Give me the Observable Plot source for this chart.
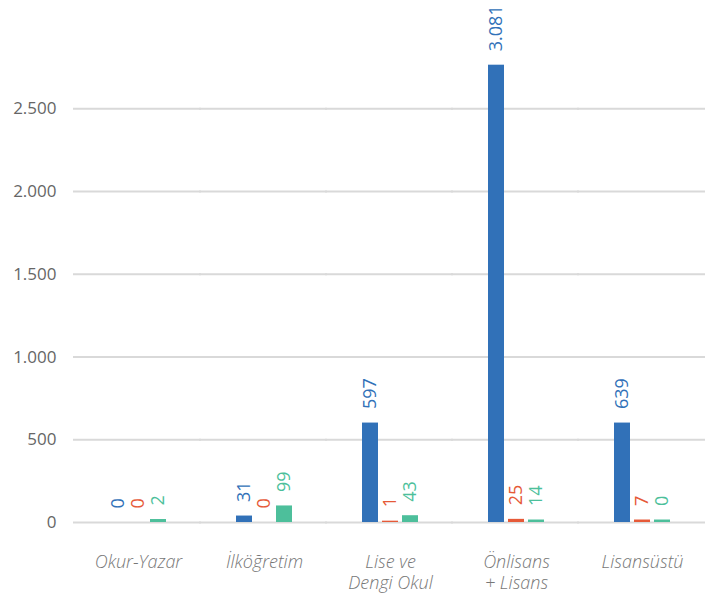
<!DOCTYPE html>
<html>
<head>
<meta charset="utf-8">
<script src="https://cdn.jsdelivr.net/npm/d3@7"></script>
<script src="https://cdn.jsdelivr.net/npm/@observablehq/plot@0.6"></script>
<style>
  html, body { margin: 0; padding: 0; background: #fff; }
</style>
</head>
<body>
<div id="chart"></div>
<script>
// Categories (x groups)
const categories = ["Okur-Yazar", "İlköğretim", "Lise ve\nDengi Okul", "Önlisans\n+ Lisans", "Lisansüstü"];
// Series keys and colours
const seriesKeys = ["s1", "s2", "s3"];
const seriesColors = ["#3171b8", "#e65a38", "#4dbf9b"];
// Value labels as printed on the chart
const labelBlue = [0, 31, 597, 3081, 639];
const labelOrange = [0, 0, 1, 25, 7];
const labelGreen = [2, 99, 43, 14, 0];
// Bar heights as drawn in the picture
const barBlue = [0, 39, 601, 2764, 601];
const barOrange = [0, 0, 8, 19, 15];
const barGreen = [18, 100, 41, 15, 15];
// Y tick values
const yTicks = [0, 500, 1000, 1500, 2000, 2500];

const labels = [labelBlue, labelOrange, labelGreen];
const bars = [barBlue, barOrange, barGreen];
const rows = [];
categories.forEach((c, i) => seriesKeys.forEach((s, j) => rows.push({category: c, series: s, bar: bars[j][i], label: labels[j][i]})));

const fmt = d3.formatLocale({decimal: ",", thousands: ".", grouping: [3], currency: ["", ""]}).format(",d");

const chart = Plot.plot({
  width: 705,
  height: 598,
  marginTop: 0,
  marginBottom: 76,
  marginLeft: 74,
  marginRight: 0,
  style: {fontFamily: "'Open Sans', sans-serif", background: "white"},
  fx: {domain: categories, padding: 0, label: null},
  x: {domain: seriesKeys, paddingInner: 0.19, paddingOuter: 1.6, axis: null},
  y: {domain: [0, 3155], axis: null},
  color: {domain: seriesKeys, range: seriesColors},
  marks: [
    Plot.ruleY(yTicks, {stroke: "#d9d9d9", strokeWidth: 2, insetLeft: -2}),
    Plot.barY(rows, {fx: "category", x: "series", y: "bar", fill: "series"}),
    Plot.text(rows, {fx: "category", x: "series", y: "bar", text: d => fmt(d.label), fill: "series", rotate: -90, textAnchor: "start", dy: -14, fontSize: 18}),
    Plot.axisY(yTicks, {tickSize: 0, tickPadding: 19, tickFormat: fmt, fontSize: 17, fill: "#666", label: null}),
    Plot.axisFx({anchor: "bottom", tickSize: 0, tickPadding: 30, fontSize: 18, fontStyle: "italic", fontWeight: 300, fill: "#777", label: null, lineHeight: 1.2})
  ]
});
document.getElementById("chart").appendChild(chart);
</script>
</body>
</html>
